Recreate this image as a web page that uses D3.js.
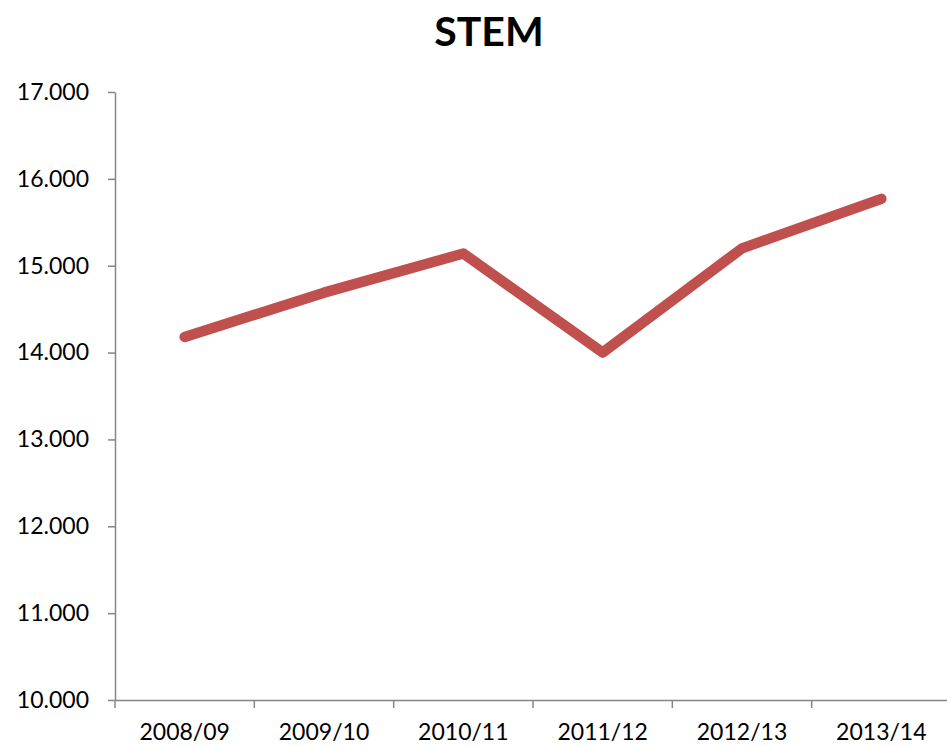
<!DOCTYPE html>
<html><head><meta charset="utf-8">
<script src="https://cdn.jsdelivr.net/npm/d3@7"></script>
<style>body{margin:0;background:#fff}</style>
</head><body>
<svg id="c" width="947" height="746"></svg>
<script>
const categories = ["2008/09","2009/10","2010/11","2011/12","2012/13","2013/14"];
const values = [14.18, 14.69, 15.14, 14.0, 15.2, 15.77];
const yTicks = [10,11,12,13,14,15,16,17];
const title = "STEM";

(function(){
const svg = d3.select("#c");
const font = "Lato, 'Open Sans', sans-serif";
const mLeft = 115, mRight = 951, mTop = 92, mBottom = 700;
const x = d3.scaleBand().domain(categories).range([mLeft, mRight]).padding(0);
const y = d3.scaleLinear().domain([10,17]).range([mBottom, mTop]);

svg.append("text").attr("x", 489).attr("y", 46).attr("text-anchor","middle")
  .attr("font-family", font).attr("font-weight","bold").attr("font-size", 41)
  .attr("fill","#000").text(title);

const yAxis = svg.append("g").attr("transform", `translate(${mLeft},0)`)
  .call(d3.axisLeft(y).tickValues(yTicks).tickSize(7).tickSizeOuter(0).tickPadding(19)
    .tickFormat(d => d3.format(".3f")(d)));
yAxis.selectAll("text").attr("font-family", font).attr("font-size", 23).attr("fill","#000");
yAxis.selectAll("line,path").attr("stroke","#868686").attr("stroke-width",1.5);

const xAxis = svg.append("g").attr("transform", `translate(0,${mBottom})`)
  .call(d3.axisBottom(x).tickSize(0).tickSizeOuter(0).tickPadding(24));
xAxis.select("path").attr("stroke","#868686").attr("stroke-width",1.5);
xAxis.selectAll("text").attr("font-family", font).attr("font-size", 23).attr("fill","#000");
svg.append("g").selectAll("line").data(categories).join("line")
  .attr("x1", d => x(d)).attr("x2", d => x(d))
  .attr("y1", mBottom).attr("y2", mBottom + 8)
  .attr("stroke","#868686").attr("stroke-width",1.5);

const line = d3.line().x((d,i) => x(categories[i]) + x.bandwidth()/2).y(d => y(d));
svg.append("path").datum(values).attr("d", line)
  .attr("fill","none").attr("stroke","#C0504D").attr("stroke-width",10.5)
  .attr("stroke-linecap","round").attr("stroke-linejoin","round");
})();
</script>
</body></html>
